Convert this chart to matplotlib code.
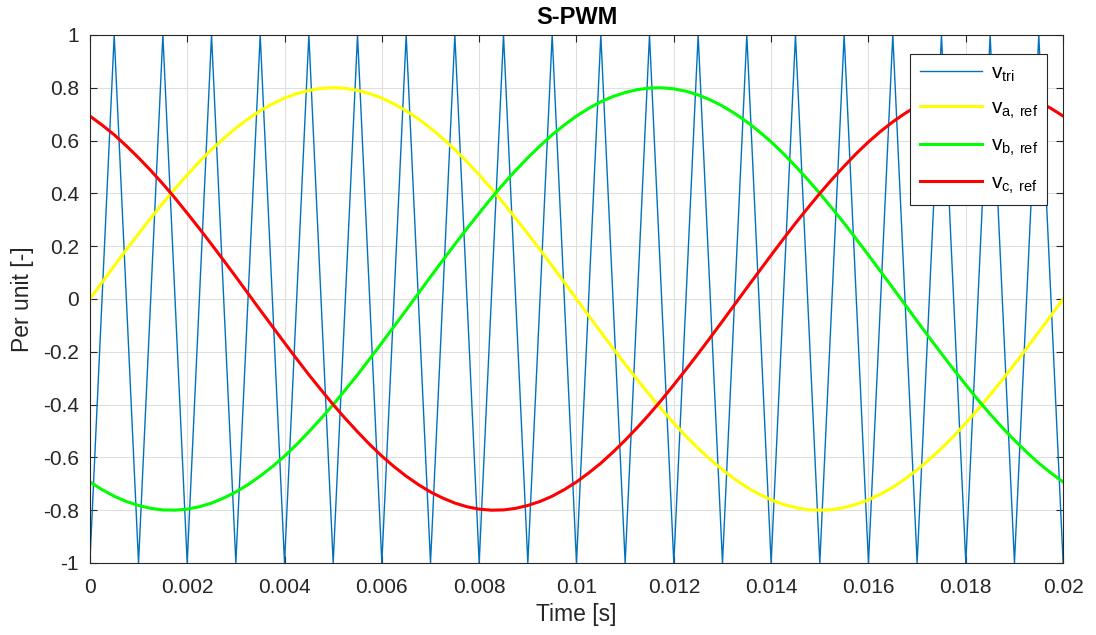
import numpy as np
import matplotlib.pyplot as plt

# sample times (s), step 0.25 ms
t = [k * 0.00025 for k in range(81)]

# carrier vertices (1 kHz triangle), one every 0.5 ms
t_tri = [k * 0.0005 for k in range(41)]
v_tri = [-1, 1, -1, 1, -1, 1, -1, 1, -1, 1,
         -1, 1, -1, 1, -1, 1, -1, 1, -1, 1,
         -1, 1, -1, 1, -1, 1, -1, 1, -1, 1,
         -1, 1, -1, 1, -1, 1, -1, 1, -1, 1, -1]

v_a = [0, 0.063, 0.125, 0.187, 0.247, 0.306, 0.363, 0.418, 0.470, 0.520,
       0.566, 0.608, 0.647, 0.682, 0.713, 0.739, 0.761, 0.778, 0.790, 0.798,
       0.800, 0.798, 0.790, 0.778, 0.761, 0.739, 0.713, 0.682, 0.647, 0.608,
       0.566, 0.520, 0.470, 0.418, 0.363, 0.306, 0.247, 0.187, 0.125, 0.063,
       0, -0.063, -0.125, -0.187, -0.247, -0.306, -0.363, -0.418, -0.470, -0.520,
       -0.566, -0.608, -0.647, -0.682, -0.713, -0.739, -0.761, -0.778, -0.790, -0.798,
       -0.800, -0.798, -0.790, -0.778, -0.761, -0.739, -0.713, -0.682, -0.647, -0.608,
       -0.566, -0.520, -0.470, -0.418, -0.363, -0.306, -0.247, -0.187, -0.125, -0.063, 0]

v_b = [-0.693, -0.722, -0.747, -0.767, -0.782, -0.793, -0.799, -0.800, -0.796, -0.787,
       -0.773, -0.754, -0.731, -0.703, -0.671, -0.635, -0.595, -0.551, -0.503, -0.453,
       -0.400, -0.344, -0.287, -0.227, -0.166, -0.104, -0.042, 0.021, 0.084, 0.146,
       0.207, 0.267, 0.325, 0.382, 0.436, 0.487, 0.535, 0.580, 0.622, 0.659,
       0.693, 0.722, 0.747, 0.767, 0.782, 0.793, 0.799, 0.800, 0.796, 0.787,
       0.773, 0.754, 0.731, 0.703, 0.671, 0.635, 0.595, 0.551, 0.503, 0.453,
       0.400, 0.344, 0.287, 0.227, 0.166, 0.104, 0.042, -0.021, -0.084, -0.146,
       -0.207, -0.267, -0.325, -0.382, -0.436, -0.487, -0.535, -0.580, -0.622, -0.659, -0.693]

v_c = [0.693, 0.659, 0.622, 0.580, 0.535, 0.487, 0.436, 0.382, 0.325, 0.267,
       0.207, 0.146, 0.084, 0.021, -0.042, -0.104, -0.166, -0.227, -0.287, -0.344,
       -0.400, -0.453, -0.503, -0.551, -0.595, -0.635, -0.671, -0.703, -0.731, -0.754,
       -0.773, -0.787, -0.796, -0.800, -0.799, -0.793, -0.782, -0.767, -0.747, -0.722,
       -0.693, -0.659, -0.622, -0.580, -0.535, -0.487, -0.436, -0.382, -0.325, -0.267,
       -0.207, -0.146, -0.084, -0.021, 0.042, 0.104, 0.166, 0.227, 0.287, 0.344,
       0.400, 0.453, 0.503, 0.551, 0.595, 0.635, 0.671, 0.703, 0.731, 0.754,
       0.773, 0.787, 0.796, 0.800, 0.799, 0.793, 0.782, 0.767, 0.747, 0.722, 0.693]

plt.rcParams['font.family'] = ['Liberation Sans', 'DejaVu Sans']

fig = plt.figure(figsize=(10.96, 6.35), dpi=100)
ax = fig.add_axes([0.082, 0.1134, 0.888, 0.8315])

ax.plot(t_tri, v_tri, color='#0072BD', lw=1.0, label='$\\mathregular{v_{tri}}$')
ax.plot(t, v_a, color='#FFFF00', lw=2.2, label='$\\mathregular{v_{a,\\,ref}}$')
ax.plot(t, v_b, color='#00FF00', lw=2.2, label='$\\mathregular{v_{b,\\,ref}}$')
ax.plot(t, v_c, color='#FF0000', lw=2.2, label='$\\mathregular{v_{c,\\,ref}}$')

ax.set_xlim(0, 0.02)
ax.set_ylim(-1, 1)
ax.set_xticks(np.arange(0, 0.0201, 0.002))
ax.set_xticklabels(['0', '0.002', '0.004', '0.006', '0.008', '0.01',
                    '0.012', '0.014', '0.016', '0.018', '0.02'])
ax.set_yticks(np.arange(-1, 1.01, 0.2))
ax.set_yticklabels(['-1', '-0.8', '-0.6', '-0.4', '-0.2', '0',
                    '0.2', '0.4', '0.6', '0.8', '1'])
ax.tick_params(direction='in', top=True, right=True, labelsize=15,
               color='#262626', labelcolor='#262626', length=5, width=0.8)
ax.tick_params(axis='x', pad=11)
ax.tick_params(axis='y', pad=8)
ax.grid(True, color='#DFDFDF', lw=0.8)
for s in ax.spines.values():
    s.set_color('#262626')
    s.set_linewidth(0.8)

ax.set_xlabel('Time [s]', fontsize=16.5, color='#262626', labelpad=4)
ax.set_ylabel('Per unit [-]', fontsize=16.5, color='#262626', labelpad=6)
ax.set_title('S-PWM', fontsize=17, fontweight='bold', color='black', pad=8)

leg = ax.legend(loc='upper right', bbox_to_anchor=(0.9836, 0.964), fontsize=15,
                fancybox=False, framealpha=1, edgecolor='#262626',
                handlelength=3.0, handletextpad=0.4, borderpad=0.45,
                labelspacing=0.72, borderaxespad=0)
leg.get_frame().set_linewidth(0.8)

fig.savefig('out.png', dpi=100)
